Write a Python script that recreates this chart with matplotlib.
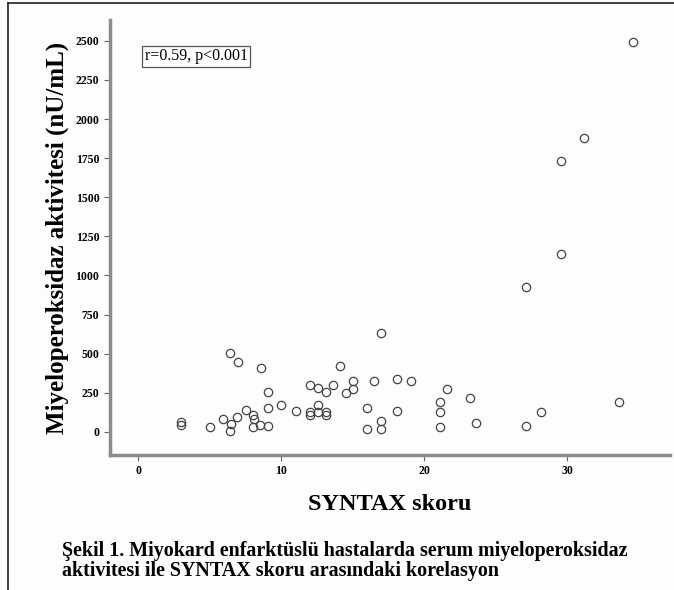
import matplotlib
matplotlib.use("Agg")
import matplotlib.pyplot as plt
from matplotlib.lines import Line2D

# SYNTAX score vs myeloperoxidase activity
syntax = [3.0, 3.0, 5.0, 5.9, 6.4, 7.0, 6.4, 6.5, 6.9, 7.5, 8.0, 8.0, 8.1, 8.5,
          8.6, 9.1, 9.1, 9.1, 10.0, 11.0, 12.0, 12.6, 13.1, 13.6, 12.0, 12.0,
          12.6, 12.6, 13.1, 13.1, 14.1, 14.5, 15.0, 15.0, 16.0, 16.0, 16.5,
          17.0, 17.0, 17.0, 18.1, 18.1, 19.1, 21.1, 21.1, 21.1, 21.6, 23.2,
          23.6, 27.1, 27.1, 28.2, 29.6, 29.6, 31.15, 33.6, 34.6]
mpo = [45, 62, 30, 83, 503, 449, 8, 51, 96, 141, 105, 34, 80, 45,
       407, 258, 155, 36, 173, 136, 297, 279, 258, 297, 130, 109,
       173, 130, 130, 109, 422, 247, 324, 276, 153, 17, 327,
       632, 70, 17, 338, 136, 327, 194, 130, 34, 273, 219,
       59, 40, 928, 126, 1136, 1735, 1877, 194, 2492]

x_ticks = [0, 10, 20, 30]
y_ticks = [0, 250, 500, 750, 1000, 1250, 1500, 1750, 2000, 2250, 2500]

bg = '#fdfdfd'
plt.rcParams['font.family'] = ['Liberation Serif', 'DejaVu Serif']

fig = plt.figure(figsize=(6.74, 5.9), dpi=100, facecolor=bg)
ax = fig.add_axes([0.163, 0.229, 0.831, 0.737], facecolor=bg)

ax.plot(syntax, mpo, linestyle='none', marker='o', markersize=6,
        markerfacecolor='none', markeredgecolor='#444444', markeredgewidth=0.9)

ax.set_xlim(-2.0, 37.2)
ax.set_ylim(-147, 2633)
ax.set_xticks(x_ticks)
ax.set_yticks(y_ticks)
ax.tick_params(axis='both', direction='out', length=4, width=0.8, color='#666666',
               labelsize=8.5)
for lbl in ax.get_xticklabels() + ax.get_yticklabels():
    lbl.set_fontweight('bold')

for side in ['top', 'right']:
    ax.spines[side].set_visible(False)
for side in ['left', 'bottom']:
    ax.spines[side].set_color('#8c8c8c')
    ax.spines[side].set_linewidth(2.5)

ax.set_xlabel("SYNTAX skoru", fontsize=17.5, fontweight='bold', labelpad=12)
ax.set_ylabel("Miyeloperoksidaz aktivitesi (nU/mL)", fontsize=18,
              fontweight='bold', labelpad=5)

ax.text(0.062, 0.917, "r=0.59, p<0.001", transform=ax.transAxes, fontsize=11.5,
        va='center', ha='left',
        bbox=dict(boxstyle='square,pad=0.15', facecolor=bg,
                  edgecolor='#555555', linewidth=0.9))

fig.text(62 / 674, 1 - 551 / 590,
         "Şekil 1. Miyokard enfarktüslü hastalarda serum miyeloperoksidaz",
         fontsize=14.4, fontweight='bold', va='center', ha='left')
fig.text(62 / 674, 1 - 571 / 590,
         "aktivitesi ile SYNTAX skoru arasındaki korelasyon",
         fontsize=14.4, fontweight='bold', va='center', ha='left')

# page frame (left and top edges visible)
fig.add_artist(Line2D([8 / 674, 8 / 674], [0, 1 - 3 / 590], color='#222222',
                      linewidth=1.2))
fig.add_artist(Line2D([8 / 674, 1], [1 - 3 / 590, 1 - 3 / 590], color='#222222',
                      linewidth=1.2))

fig.savefig("out.png", dpi=100, facecolor=bg)
